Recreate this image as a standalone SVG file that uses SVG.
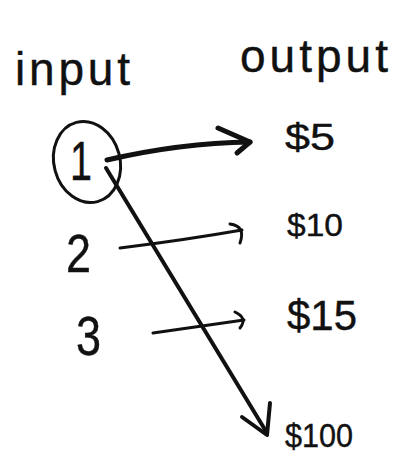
<svg xmlns="http://www.w3.org/2000/svg" width="393" height="455" viewBox="0 0 393 455">
<style>
text{font-family:"Liberation Sans","DejaVu Sans",sans-serif;fill:#111;stroke:#111;stroke-width:0.4}
.c{fill:none;stroke:#111;stroke-linecap:round;stroke-linejoin:round}
</style>
<rect width="393" height="455" fill="#fff"/>
<g id="hdr-input"><text x="15" y="85" font-size="46" textLength="115" lengthAdjust="spacing">input</text></g>
<g id="hdr-output"><text x="240" y="72" font-size="46" textLength="148" lengthAdjust="spacing">output</text></g>
<g id="in1">
<ellipse cx="87" cy="162" rx="33" ry="41" transform="rotate(-15 87 162)" fill="none" stroke="#111" stroke-width="3"/>
<text x="70" y="180" font-size="56" textLength="22" lengthAdjust="spacingAndGlyphs">1</text>
</g>
<g id="in2"><text x="66" y="272" font-size="54" textLength="25" lengthAdjust="spacingAndGlyphs">2</text></g>
<g id="in3"><text x="76" y="355" font-size="56" textLength="25" lengthAdjust="spacingAndGlyphs">3</text></g>
<g id="out5"><text x="285" y="150" font-size="36" textLength="50" lengthAdjust="spacingAndGlyphs">$5</text></g>
<g id="out10"><text x="287" y="236" font-size="32" textLength="56" lengthAdjust="spacingAndGlyphs">$10</text></g>
<g id="out15"><text x="287" y="330" font-size="42" textLength="70" lengthAdjust="spacingAndGlyphs">$15</text></g>
<g id="out100"><text x="285" y="447" font-size="34" textLength="68" lengthAdjust="spacingAndGlyphs">$100</text></g>
<g id="connectors">
<path class="c" stroke-width="5" d="M107,160 Q180,143 250,142"/>
<path class="c" stroke-width="5" d="M218,128 L250,142 L237,153"/>
<path class="c" stroke-width="4" d="M106,168 L267,433"/>
<path class="c" stroke-width="4" d="M242,417 L267,435 L270,403"/>
<path class="c" stroke-width="3" d="M120,248 Q185,240 242,230"/>
<path class="c" stroke-width="3" d="M230,224 Q246,226 240,243"/>
<path class="c" stroke-width="3" d="M153,333 L244,320"/>
<path class="c" stroke-width="3" d="M235,312 Q248,318 240,328"/>
</g>
</svg>
